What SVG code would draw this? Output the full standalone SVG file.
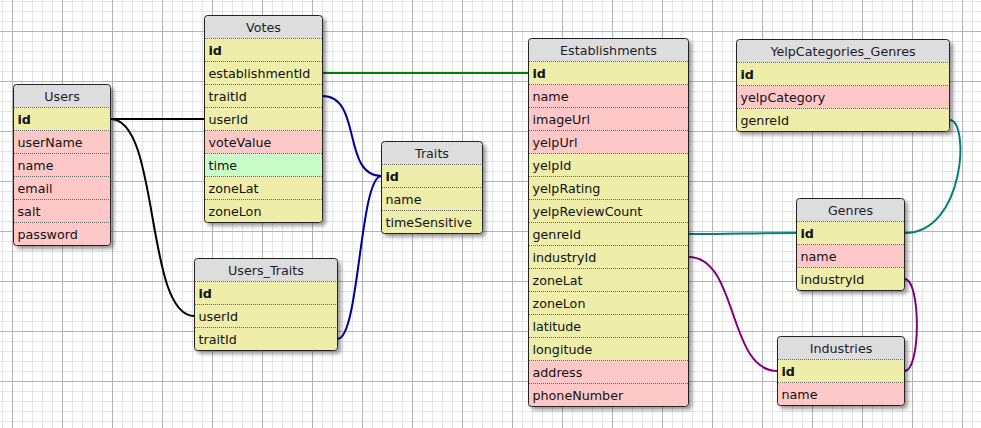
<svg xmlns="http://www.w3.org/2000/svg" width="981" height="428" viewBox="0 0 981 428">
<defs>
<pattern id="minor" x="2" y="1" width="10" height="10" patternUnits="userSpaceOnUse"><path d="M0.5,0V10M0,0.5H10" stroke="#e3e3e3" stroke-width="1" fill="none"/></pattern>
<pattern id="major" x="12" y="31" width="50" height="50" patternUnits="userSpaceOnUse"><path d="M0.5,0V50M0,0.5H50" stroke="#b3b3b3" stroke-width="1" fill="none"/></pattern>
<filter id="sh" x="-10%" y="-10%" width="130%" height="130%"><feDropShadow dx="3" dy="3" stdDeviation="2" flood-color="#000" flood-opacity="0.45"/></filter>
<style>
.bg{fill:#fff;filter:url(#sh)}
.hd{fill:#dddddd}
.y{fill:#eeeeaa}
.p{fill:#ffc8c8}
.g{fill:#c8ffc8}
.sep{stroke:#666;stroke-width:1;stroke-dasharray:1,1;fill:none}
.bd{fill:none;stroke:#222;stroke-width:1}
text{font-family:"DejaVu Sans",Verdana,sans-serif;font-size:12.7px;fill:#111}
.ht{text-anchor:middle;fill:#1c1c2c}
.k{font-weight:bold}
.c{fill:none;stroke-width:2}
</style>
</defs>
<rect x="0" y="0" width="981" height="428" fill="#fff"/>
<rect x="0" y="0" width="981" height="428" fill="url(#minor)"/>
<rect x="0" y="0" width="981" height="428" fill="url(#major)"/>

<g id="connectors">
<path class="c" stroke="#000" d="M110.5,119H204.5"/>
<path class="c" stroke="#000" d="M110.5,119C160.5,119 144.5,316 194.5,316"/>
<path class="c" stroke="#008000" d="M322.5,73H528.5"/>
<path class="c" stroke="#000099" d="M322.5,96C362.5,96 341.5,176 381.5,176"/>
<path class="c" stroke="#000099" d="M337.5,339C359.5,339 359.5,176 381.5,176"/>
<path class="c" stroke="#008080" d="M688.5,234C738.5,234 746.5,233 796.5,233"/>
<path class="c" stroke="#800080" d="M688.5,257C738.5,257 727.5,371 777.5,371"/>
<path class="c" stroke="#008080" d="M949.5,120C970,120 965,233 904.5,233"/>
<path class="c" stroke="#800080" d="M904.5,279C921,279 921,371 904.5,371"/>
</g>

<g id="Users">
<rect class="bg" x="13.5" y="84.5" width="97" height="161" rx="3"/>
<rect class="hd" x="13.5" y="84.5" width="97" height="23" rx="3"/>
<rect class="y" x="13.5" y="107.5" width="97" height="23"/>
<rect class="p" x="13.5" y="130.5" width="97" height="115"/>
<path class="sep" d="M14,107.5H110M14,130.5H110M14,153.5H110M14,176.5H110M14,199.5H110M14,222.5H110"/>
<rect class="bd" x="13.5" y="84.5" width="97" height="161" rx="3"/>
<text class="ht" x="62" y="101">Users</text>
<text class="k" x="17.5" y="124">id</text>
<text x="17.5" y="147">userName</text>
<text x="17.5" y="170">name</text>
<text x="17.5" y="193">email</text>
<text x="17.5" y="216">salt</text>
<text x="17.5" y="239">password</text>
</g>

<g id="Votes">
<rect class="bg" x="204.5" y="15.5" width="118" height="207" rx="3"/>
<rect class="hd" x="204.5" y="15.5" width="118" height="23" rx="3"/>
<rect class="y" x="204.5" y="38.5" width="118" height="92"/>
<rect class="p" x="204.5" y="130.5" width="118" height="23"/>
<rect class="g" x="204.5" y="153.5" width="118" height="23"/>
<rect class="y" x="204.5" y="176.5" width="118" height="46"/>
<path class="sep" d="M205,38.5H322M205,61.5H322M205,84.5H322M205,107.5H322M205,130.5H322M205,153.5H322M205,176.5H322M205,199.5H322"/>
<rect class="bd" x="204.5" y="15.5" width="118" height="207" rx="3"/>
<text class="ht" x="263.5" y="32">Votes</text>
<text class="k" x="208.5" y="55">id</text>
<text x="208.5" y="78">establishmentId</text>
<text x="208.5" y="101">traitId</text>
<text x="208.5" y="124">userId</text>
<text x="208.5" y="147">voteValue</text>
<text x="208.5" y="170">time</text>
<text x="208.5" y="193">zoneLat</text>
<text x="208.5" y="216">zoneLon</text>
</g>

<g id="Traits">
<rect class="bg" x="381.5" y="141.5" width="101" height="92" rx="3"/>
<rect class="hd" x="381.5" y="141.5" width="101" height="23" rx="3"/>
<rect class="y" x="381.5" y="164.5" width="101" height="69"/>
<path class="sep" d="M382,164.5H482M382,187.5H482M382,210.5H482"/>
<rect class="bd" x="381.5" y="141.5" width="101" height="92" rx="3"/>
<text class="ht" x="432" y="158">Traits</text>
<text class="k" x="385.5" y="181">id</text>
<text x="385.5" y="204">name</text>
<text x="385.5" y="227">timeSensitive</text>
</g>

<g id="Users_Traits">
<rect class="bg" x="194.5" y="258.5" width="143" height="92" rx="3"/>
<rect class="hd" x="194.5" y="258.5" width="143" height="23" rx="3"/>
<rect class="y" x="194.5" y="281.5" width="143" height="69"/>
<path class="sep" d="M195,281.5H337M195,304.5H337M195,327.5H337"/>
<rect class="bd" x="194.5" y="258.5" width="143" height="92" rx="3"/>
<text class="ht" x="266" y="275">Users_Traits</text>
<text class="k" x="198.5" y="298">id</text>
<text x="198.5" y="321">userId</text>
<text x="198.5" y="344">traitId</text>
</g>

<g id="Establishments">
<rect class="bg" x="528.5" y="38.5" width="160" height="368" rx="3"/>
<rect class="hd" x="528.5" y="38.5" width="160" height="23" rx="3"/>
<rect class="y" x="528.5" y="61.5" width="160" height="23"/>
<rect class="p" x="528.5" y="84.5" width="160" height="69"/>
<rect class="y" x="528.5" y="153.5" width="160" height="207"/>
<rect class="p" x="528.5" y="360.5" width="160" height="46"/>
<path class="sep" d="M529,61.5H688M529,84.5H688M529,107.5H688M529,130.5H688M529,153.5H688M529,176.5H688M529,199.5H688M529,222.5H688M529,245.5H688M529,268.5H688M529,291.5H688M529,314.5H688M529,337.5H688M529,360.5H688M529,383.5H688"/>
<rect class="bd" x="528.5" y="38.5" width="160" height="368" rx="3"/>
<text class="ht" x="608.5" y="55">Establishments</text>
<text class="k" x="532.5" y="78">id</text>
<text x="532.5" y="101">name</text>
<text x="532.5" y="124">imageUrl</text>
<text x="532.5" y="147">yelpUrl</text>
<text x="532.5" y="170">yelpId</text>
<text x="532.5" y="193">yelpRating</text>
<text x="532.5" y="216">yelpReviewCount</text>
<text x="532.5" y="239">genreId</text>
<text x="532.5" y="262">industryId</text>
<text x="532.5" y="285">zoneLat</text>
<text x="532.5" y="308">zoneLon</text>
<text x="532.5" y="331">latitude</text>
<text x="532.5" y="354">longitude</text>
<text x="532.5" y="377">address</text>
<text x="532.5" y="400">phoneNumber</text>
</g>

<g id="YelpCategories_Genres">
<rect class="bg" x="736.5" y="39.5" width="213" height="92" rx="3"/>
<rect class="hd" x="736.5" y="39.5" width="213" height="23" rx="3"/>
<rect class="y" x="736.5" y="62.5" width="213" height="23"/>
<rect class="p" x="736.5" y="85.5" width="213" height="23"/>
<rect class="y" x="736.5" y="108.5" width="213" height="23"/>
<path class="sep" d="M737,62.5H949M737,85.5H949M737,108.5H949"/>
<rect class="bd" x="736.5" y="39.5" width="213" height="92" rx="3"/>
<text class="ht" x="843" y="56">YelpCategories_Genres</text>
<text class="k" x="740.5" y="79">id</text>
<text x="740.5" y="102">yelpCategory</text>
<text x="740.5" y="125">genreId</text>
</g>

<g id="Genres">
<rect class="bg" x="796.5" y="198.5" width="108" height="92" rx="3"/>
<rect class="hd" x="796.5" y="198.5" width="108" height="23" rx="3"/>
<rect class="y" x="796.5" y="221.5" width="108" height="23"/>
<rect class="p" x="796.5" y="244.5" width="108" height="23"/>
<rect class="y" x="796.5" y="267.5" width="108" height="23"/>
<path class="sep" d="M797,221.5H904M797,244.5H904M797,267.5H904"/>
<rect class="bd" x="796.5" y="198.5" width="108" height="92" rx="3"/>
<text class="ht" x="850.5" y="215">Genres</text>
<text class="k" x="800.5" y="238">id</text>
<text x="800.5" y="261">name</text>
<text x="800.5" y="284">industryId</text>
</g>

<g id="Industries">
<rect class="bg" x="777.5" y="336.5" width="127" height="69" rx="3"/>
<rect class="hd" x="777.5" y="336.5" width="127" height="23" rx="3"/>
<rect class="y" x="777.5" y="359.5" width="127" height="23"/>
<rect class="p" x="777.5" y="382.5" width="127" height="23"/>
<path class="sep" d="M778,359.5H904M778,382.5H904"/>
<rect class="bd" x="777.5" y="336.5" width="127" height="69" rx="3"/>
<text class="ht" x="841" y="353">Industries</text>
<text class="k" x="781.5" y="376">id</text>
<text x="781.5" y="399">name</text>
</g>
</svg>
